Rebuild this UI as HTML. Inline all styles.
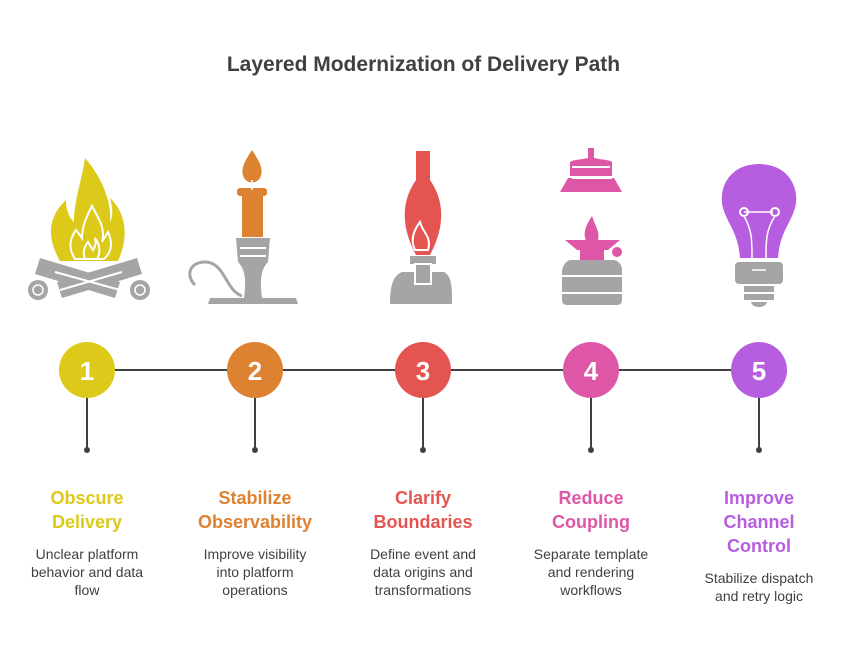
<!DOCTYPE html>
<html><head><meta charset="utf-8"><style>
body{margin:0;background:#fff;}
svg{display:block;font-family:"Liberation Sans",Arial,sans-serif;}
</style></head><body>
<svg width="847" height="654" viewBox="0 0 847 654" xmlns="http://www.w3.org/2000/svg">
<rect width="847" height="654" fill="#fff"/>
<text x="423.5" y="71" text-anchor="middle" font-size="21" font-weight="bold" fill="#404040">Layered Modernization of Delivery Path</text>

<!-- Icon 1: campfire -->
<g>
<path d="M60 261 C45 235 50 215 66 200 C66 212 70 218 74 222 C74 200 82 180 85 158 C100 175 112 200 110 222 C114 215 112 205 110 198 C125 212 130 235 118 261 Z" fill="#DDC919"/>
<path d="M75 259 C68 248 70 238 76 230 L82 238 C82 225 88 214 92 206 C98 218 106 228 102 242 L108 232 C114 245 110 254 104 259 Z" fill="none" stroke="#fff" stroke-width="2"/>
<path d="M85 259 C82 252 85 246 88 242 C90 246 92 248 93 250 C96 246 96 242 95 238 C101 246 100 254 97 259Z" fill="none" stroke="#fff" stroke-width="2"/>
<g fill="#A5A5A5">
<path d="M40 258 L120 282 L115 298 L35 274Z"/>
<path d="M137 258 L57 282 L62 298 L142 274Z" />
<circle cx="38" cy="290" r="10"/><circle cx="140" cy="290" r="10"/>
</g>
<path d="M55 272 L120 290 M122 272 L60 290" stroke="#fff" stroke-width="2"/>
<circle cx="38" cy="290" r="5" fill="none" stroke="#fff" stroke-width="1.5"/>
<circle cx="140" cy="290" r="5" fill="none" stroke="#fff" stroke-width="1.5"/>
</g>

<!-- Icon 2: candle -->
<g>
<path d="M252 150 C244 162 240 170 244 178 C248 184 256 184 260 178 C264 170 260 162 252 150Z" fill="#DD8230"/>
<rect x="237" y="188" width="30" height="8" rx="3" fill="#DD8230"/>
<rect x="242" y="192" width="21" height="45" fill="#DD8230"/>
<path d="M252 180 L252 190" stroke="#fff" stroke-width="1.5"/>
<path d="M236 238 L270 238 L268 262 C260 270 260 282 262 298 L296 298 L298 304 L208 304 L210 298 L244 298 C246 282 246 270 238 262Z" fill="#A5A5A5"/>
<path d="M240 248 L266 248 M240 256 L266 256" stroke="#fff" stroke-width="2"/>
<path d="M242 296 C225 290 225 262 205 262 C190 262 185 275 195 285" fill="none" stroke="#A5A5A5" stroke-width="3"/>
</g>

<!-- Icon 3: oil lamp -->
<g>
<path d="M416 151 L430 151 L430 180 C444 200 446 225 430 255 L416 255 C400 225 402 200 416 180Z" fill="#E45552"/>
<path d="M415 250 C410 240 414 230 420 222 C422 232 432 236 428 250Z" fill="none" stroke="#fff" stroke-width="2"/>
<rect x="410" y="256" width="26" height="8" fill="#A5A5A5"/>
<path d="M402 272 L444 272 C452 276 452 288 452 304 L390 304 C390 288 392 276 402 272Z" fill="#A5A5A5"/>
<rect x="415" y="264" width="16" height="20" fill="#A5A5A5" stroke="#fff" stroke-width="2"/>
</g>

<!-- Icon 4: stove -->
<g fill="#DE57A6">
<path d="M588 148 L594 148 L594 158 C604 160 610 160 612 162 L612 176 L570 176 L570 162 C572 160 578 160 588 158Z"/>
<path d="M568 178 L614 178 L622 192 L560 192Z"/>
<path d="M586 240 C582 232 588 222 592 216 C596 228 600 232 598 240Z"/>
<path d="M565 240 L620 240 L608 250 L577 250Z"/>
<rect x="580" y="250" width="24" height="10"/>
<circle cx="617" cy="252" r="5"/>
</g>
<path d="M572 167 L610 167 M572 178 L612 178" stroke="#fff" stroke-width="2"/>
<path d="M570 260 L614 260 C622 262 622 268 622 272 L622 300 C622 303 620 305 617 305 L567 305 C564 305 562 303 562 300 L562 272 C562 268 564 262 570 260Z" fill="#A5A5A5"/>
<path d="M562 276 L622 276 M562 293 L622 293" stroke="#fff" stroke-width="2"/>

<!-- Icon 5: bulb -->
<g>
<path d="M759 164 C790 164 800 190 795 208 C790 225 780 232 778 258 L740 258 C738 232 728 225 723 208 C718 190 728 164 759 164Z" fill="#B65DE0"/>
<path d="M744 212 L773 212" stroke="#fff" stroke-width="1.5"/>
<circle cx="744" cy="212" r="4" fill="none" stroke="#fff" stroke-width="2"/>
<circle cx="775" cy="212" r="4" fill="none" stroke="#fff" stroke-width="2"/>
<path d="M744 216 C752 230 752 240 752 258 M775 216 C766 230 766 240 766 258" fill="none" stroke="#fff" stroke-width="1.5"/>
<rect x="735" y="262" width="48" height="22" rx="4" fill="#A5A5A5"/>
<rect x="744" y="286" width="30" height="6" fill="#A5A5A5"/>
<rect x="744" y="294" width="30" height="6" fill="#A5A5A5"/>
<path d="M751 302 L767 302 C766 306 762 307 759 307 C756 307 752 306 751 302Z" fill="#A5A5A5"/>
<path d="M752 270 L766 270" stroke="#fff" stroke-width="1.5"/>
</g>

<!-- timeline -->
<line x1="87" y1="370" x2="759" y2="370" stroke="#404040" stroke-width="2"/>
<g stroke="#404040" stroke-width="2">
<line x1="87" y1="370" x2="87" y2="450"/><line x1="255" y1="370" x2="255" y2="450"/><line x1="423" y1="370" x2="423" y2="450"/><line x1="591" y1="370" x2="591" y2="450"/><line x1="759" y1="370" x2="759" y2="450"/>
</g>
<g fill="#404040"><circle cx="87" cy="450" r="3"/><circle cx="255" cy="450" r="3"/><circle cx="423" cy="450" r="3"/><circle cx="591" cy="450" r="3"/><circle cx="759" cy="450" r="3"/></g>
<circle cx="87" cy="370" r="28" fill="#DDC919"/>
<circle cx="255" cy="370" r="28" fill="#DD8230"/>
<circle cx="423" cy="370" r="28" fill="#E45552"/>
<circle cx="591" cy="370" r="28" fill="#DE57A6"/>
<circle cx="759" cy="370" r="28" fill="#B65DE0"/>
<g fill="#fff" font-size="26" font-weight="bold" text-anchor="middle">
<text x="87" y="380">1</text><text x="255" y="380">2</text><text x="423" y="380">3</text><text x="591" y="380">4</text><text x="759" y="380">5</text>
</g>

<g font-size="18" font-weight="bold" text-anchor="middle">
<text x="87" y="504" fill="#DDC919">Obscure</text><text x="87" y="528" fill="#DDC919">Delivery</text>
<text x="255" y="504" fill="#DD8230">Stabilize</text><text x="255" y="528" fill="#DD8230">Observability</text>
<text x="423" y="504" fill="#E45552">Clarify</text><text x="423" y="528" fill="#E45552">Boundaries</text>
<text x="591" y="504" fill="#DE57A6">Reduce</text><text x="591" y="528" fill="#DE57A6">Coupling</text>
<text x="759" y="504" fill="#B65DE0">Improve</text><text x="759" y="528" fill="#B65DE0">Channel</text><text x="759" y="552" fill="#B65DE0">Control</text>
</g>
<g font-size="14" fill="#404040" text-anchor="middle">
<text x="87" y="559">Unclear platform</text><text x="87" y="577">behavior and data</text><text x="87" y="595">flow</text>
<text x="255" y="559">Improve visibility</text><text x="255" y="577">into platform</text><text x="255" y="595">operations</text>
<text x="423" y="559">Define event and</text><text x="423" y="577">data origins and</text><text x="423" y="595">transformations</text>
<text x="591" y="559">Separate template</text><text x="591" y="577">and rendering</text><text x="591" y="595">workflows</text>
<text x="759" y="583">Stabilize dispatch</text><text x="759" y="601">and retry logic</text>
</g>
</svg>
</body></html>
